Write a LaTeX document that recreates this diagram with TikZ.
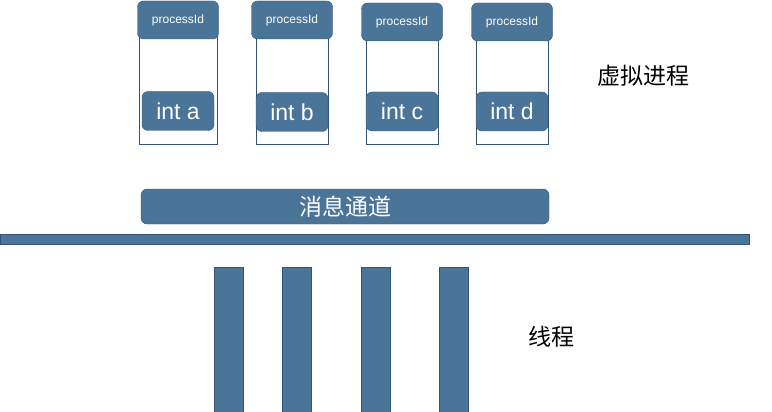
\documentclass[tikz,border=0pt]{standalone}
\usepackage{fontspec}
\setmainfont{Liberation Sans}
\newfontfamily\cjk{Noto Sans CJK SC}
\definecolor{boxblue}{RGB}{75,116,153}
\definecolor{boxedge}{RGB}{52,82,116}
\tikzset{
  procframe/.style={draw=boxedge, minimum width=72pt, minimum height=124pt, inner sep=0pt},
  pidbox/.style={draw=boxedge, fill=boxblue, rounded corners=6pt, text=white,
    font=\fontsize{12}{14}\selectfont, minimum width=81pt, minimum height=38pt, inner sep=0pt},
  varbox/.style={draw=boxedge, fill=boxblue, rounded corners=6pt, text=white,
    font=\fontsize{23}{27}\selectfont, minimum width=72pt, minimum height=39pt, inner sep=0pt},
  threadbar/.style={draw=boxedge, fill=boxblue, minimum width=29pt, minimum height=146pt, inner sep=0pt},
  cjklabel/.style={font=\cjk\fontsize{23}{27}\selectfont}
}
\begin{document}
\begin{tikzpicture}[x=1pt, y=-1pt]
    \useasboundingbox (0,0) rectangle (772,412);

    % Virtual processes
    \foreach \i/\x/\w/\py/\vy/\v in {1/178/78/20/111/a, 2/292/72/20/112/b, 3/402/72/22/111.5/c, 4/512/72/22/111.5/d} {
        \node[procframe, minimum width=\w] (frame\i) at (\x,82) {};
        \node[pidbox] (pid\i) at (\x,\py) {processId};
        \node[varbox] (var\i) at (\x,\vy) {int \v};
    }
    \node[cjklabel] (proclabel) at (643,76) {虚拟进程};

    % Message channel and bus
    \node[draw=boxedge, fill=boxblue, rounded corners=6pt, text=white, cjklabel,
          minimum width=408pt, minimum height=35pt, inner sep=0pt] (channel) at (345,206.5) {消息通道};
    \node[draw=boxedge, fill=boxblue, minimum width=749pt, minimum height=10pt, inner sep=0pt] (bus) at (374.5,239) {};

    % Threads
    \foreach \i/\x in {1/229, 2/296.5, 3/375.5, 4/453.5}
        \node[threadbar] (thread\i) at (\x,340) {};
    \node[cjklabel] (threadlabel) at (551,337) {线程};
\end{tikzpicture}
\end{document}
